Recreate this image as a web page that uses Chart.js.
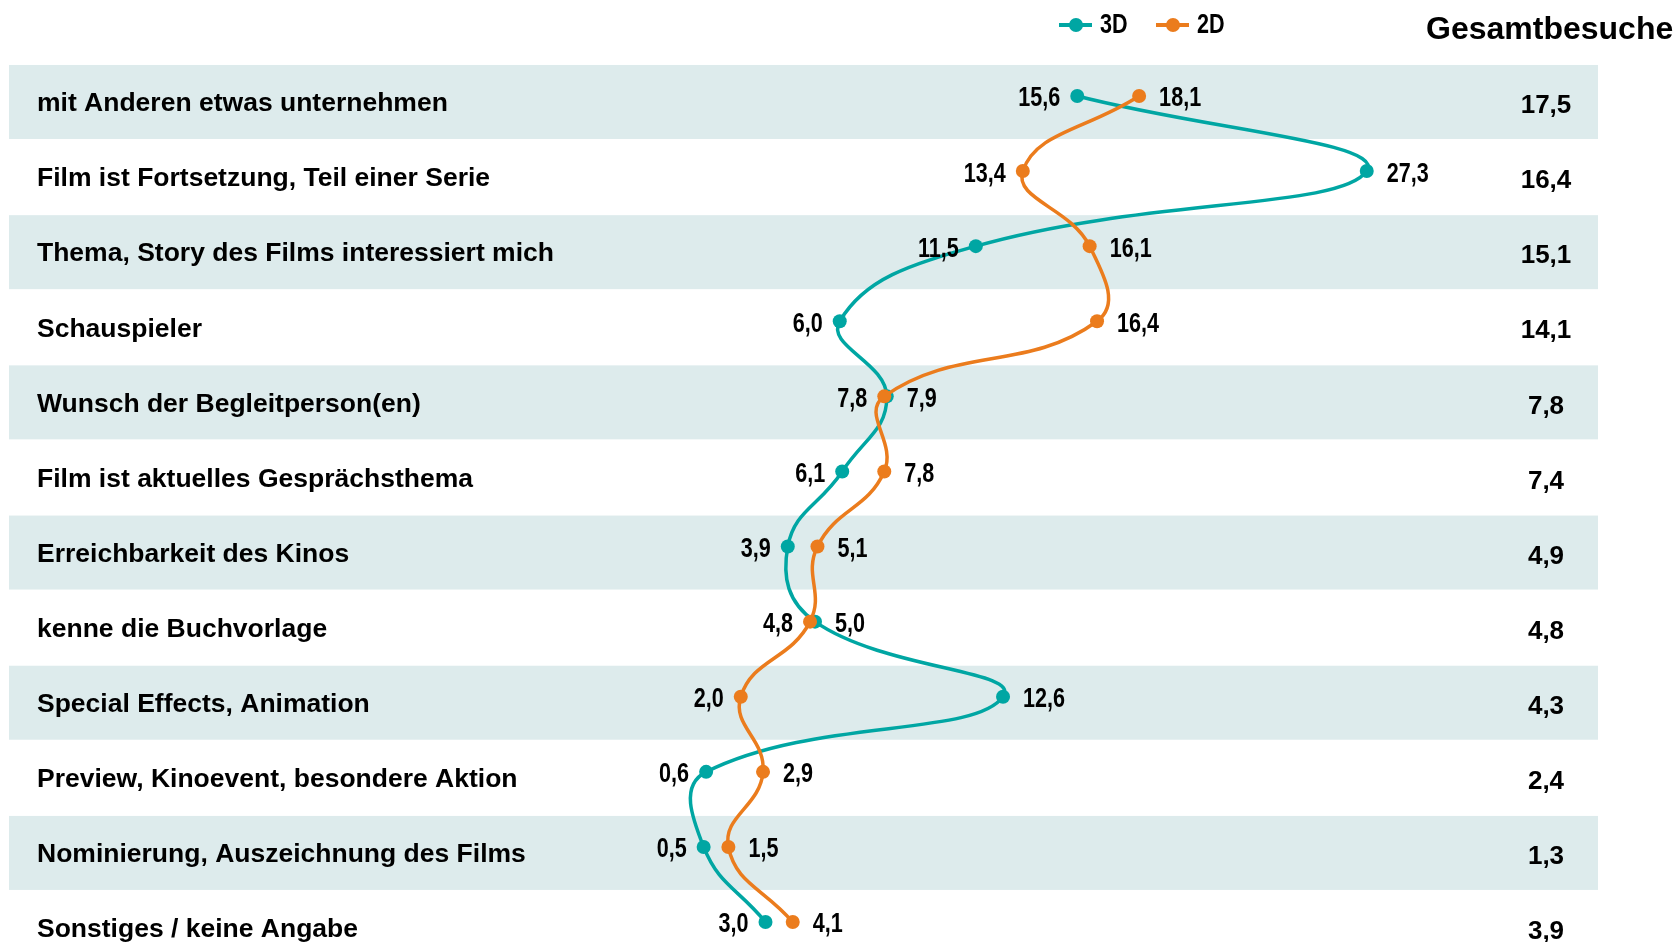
<!DOCTYPE html>
<html>
<head>
<meta charset="utf-8">
<script src="https://cdn.jsdelivr.net/npm/chart.js@4.4.0/dist/chart.umd.min.js"></script>
<style>
  body { margin: 0; background: #fff; }
  #wrap { position: relative; width: 1677px; height: 942px; }
</style>
</head>
<body>
<div id="wrap"><canvas id="chart"></canvas></div>
<script>
const categories = [
  'mit Anderen etwas unternehmen',
  'Film ist Fortsetzung, Teil einer Serie',
  'Thema, Story des Films interessiert mich',
  'Schauspieler',
  'Wunsch der Begleitperson(en)',
  'Film ist aktuelles Gesprächsthema',
  'Erreichbarkeit des Kinos',
  'kenne die Buchvorlage',
  'Special Effects, Animation',
  'Preview, Kinoevent, besondere Aktion',
  'Nominierung, Auszeichnung des Films',
  'Sonstiges / keine Angabe'
]
const values3D = [15.6, 27.3, 11.5, 6.0, 7.9, 6.1, 3.9, 5.0, 12.6, 0.6, 0.5, 3.0]
const values2D = [18.1, 13.4, 16.1, 16.4, 7.8, 7.8, 5.1, 4.8, 2.0, 2.9, 1.5, 4.1]
const totals = [17.5, 16.4, 15.1, 14.1, 7.8, 7.4, 4.9, 4.8, 4.3, 2.4, 1.3, 3.9]
const seriesNames = ['3D', '2D']
const totalsTitle = 'Gesamtbesuche'

const TEAL = '#00A6A3'
const ORANGE = '#EB7C1D'
const BAND = '#DDEBEC'
const ARIAL = '"Liberation Sans", Arial, sans-serif'

const fmt = (v) => v.toFixed(1).replace('.', ',')

// narrow look: regular bold font squeezed horizontally
function narrowText(ctx, txt, x, y, align) {
  ctx.save()
  ctx.font = 'bold 27px ' + ARIAL
  ctx.textAlign = align
  ctx.translate(x, y)
  ctx.scale(0.8, 1)
  ctx.fillText(txt, 0, 0)
  ctx.restore()
}

const decor = {
  id: 'decor',
  beforeDatasetsDraw(chart) {
    const ctx = chart.ctx
    const y = chart.scales.y
    ctx.save()
    ctx.fillStyle = BAND
    categories.forEach((c, i) => {
      if (i % 2 === 0) {
        const p = y.getPixelForValue(i)
        ctx.fillRect(9, p - 31, 1589, 74)
      }
    })
    ctx.restore()
  },
  afterDatasetsDraw(chart) {
    const ctx = chart.ctx
    const x = chart.scales.x
    const y = chart.scales.y
    ctx.save()
    ctx.fillStyle = '#000'
    ctx.textBaseline = 'middle'

    // category names
    ctx.font = 'bold 26.5px ' + ARIAL
    ctx.textAlign = 'left'
    categories.forEach((c, i) => {
      ctx.fillText(c, 37, y.getPixelForValue(i) + 8)
    })

    // totals column
    ctx.textAlign = 'center'
    ctx.font = 'bold 26px ' + ARIAL
    totals.forEach((t, i) => {
      ctx.fillText(fmt(t), 1546, y.getPixelForValue(i) + 10)
    })

    // data labels: smaller value on the left, larger on the right
    categories.forEach((c, i) => {
      const py = y.getPixelForValue(i) + 3
      const lo = Math.min(values3D[i], values2D[i])
      const hi = Math.max(values3D[i], values2D[i])
      narrowText(ctx, fmt(lo), x.getPixelForValue(lo) - 17, py, 'right')
      narrowText(ctx, fmt(hi), x.getPixelForValue(hi) + 20, py, 'left')
    })

    // legend
    const items = [
      { name: seriesNames[0], color: TEAL, x0: 1059 },
      { name: seriesNames[1], color: ORANGE, x0: 1156 }
    ]
    items.forEach((it) => {
      ctx.strokeStyle = it.color
      ctx.lineWidth = 4
      ctx.beginPath()
      ctx.moveTo(it.x0, 25)
      ctx.lineTo(it.x0 + 33, 25)
      ctx.stroke()
      ctx.fillStyle = it.color
      ctx.beginPath()
      ctx.arc(it.x0 + 17, 25, 7, 0, Math.PI * 2)
      ctx.fill()
      ctx.fillStyle = '#000'
      narrowText(ctx, it.name, it.x0 + 41, 26, 'left')
    })

    ctx.font = 'bold 32px ' + ARIAL
    ctx.textAlign = 'left'
    ctx.fillText(totalsTitle, 1426, 30)
    ctx.restore()
  }
}

const toPoints = (vals) => vals.map((v, i) => ({ x: v, y: i }))

new Chart(document.getElementById('chart'), {
  type: 'scatter',
  data: {
    datasets: [
      {
        label: seriesNames[0],
        data: toPoints(values3D),
        showLine: true,
        borderColor: TEAL,
        backgroundColor: TEAL,
        borderWidth: 3.5,
        pointRadius: 7,
        pointBorderWidth: 0,
        tension: 0.45,
        order: 2
      },
      {
        label: seriesNames[1],
        data: toPoints(values2D),
        showLine: true,
        borderColor: ORANGE,
        backgroundColor: ORANGE,
        borderWidth: 3.5,
        pointRadius: 7,
        pointBorderWidth: 0,
        tension: 0.45,
        order: 1
      }
    ]
  },
  options: {
    responsive: true,
    maintainAspectRatio: false,
    animation: false,
    layout: { padding: 0, autoPadding: false },
    plugins: {
      legend: { display: false },
      tooltip: { enabled: false }
    },
    scales: {
      x: { type: 'linear', display: false, min: -27.94, max: 39.84 },
      y: { type: 'linear', display: false, reverse: true, min: -1.278, max: 11.266 }
    }
  },
  plugins: [decor]
})
</script>
</body>
</html>
